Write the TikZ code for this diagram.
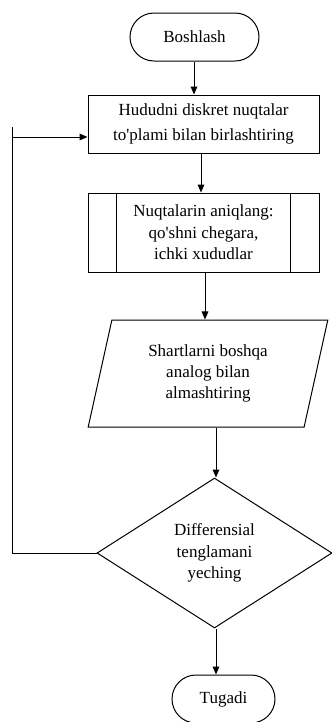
\documentclass[tikz,border=0pt]{standalone}
\usepackage{fontspec}
\setmainfont{Liberation Serif}[Ligatures=TeXOff]
\usetikzlibrary{shapes.misc,shapes.geometric,arrows.meta,calc}
\tikzset{
  base/.style={draw, line width=0.75pt, align=center, inner sep=0pt,
    font=\fontsize{12.75}{16}\selectfont},
  term/.style={base, rounded rectangle, minimum width=96.75pt, minimum height=36pt},
  procbox/.style={base, rectangle, minimum width=173.25pt},
  iobox/.style={base, trapezium, trapezium left angle=75.8, trapezium right angle=104.2,
    trapezium stretches=true, minimum width=180pt, minimum height=80.25pt},
  decbox/.style={base, diamond, minimum width=176.25pt, minimum height=112.5pt},
  arr/.style={line width=0.75pt, -{Triangle[length=6pt,width=5pt]}},
  ln/.style={line width=0.75pt}
}
\begin{document}
\begin{tikzpicture}[x=0.75pt,y=-0.75pt]
\useasboundingbox (0,0) rectangle (332,722);
\node[term] (start) at (194.5,37) {Boshlash};
\node[procbox, minimum height=43.5pt, font=\fontsize{12.75}{18.75}\selectfont] (b1) at (203.5,124) {Hududni diskret nuqtalar\\to'plami bilan birlashtiring};
\node[procbox, minimum height=59.25pt] (pp) at (203.5,232.5) {Nuqtalarin aniqlang:\\qo'shni chegara,\\ichki xududlar};
\draw[ln] ([xshift=21.75pt]pp.north west) -- ([xshift=21.75pt]pp.south west);
\draw[ln] ([xshift=-21.75pt]pp.north east) -- ([xshift=-21.75pt]pp.south east);
\node[iobox] (par) at (208,373.5) {Shartlarni boshqa\\analog bilan\\almashtiring};
\node[decbox] (dec) at (214.5,553) {Differensial\\tenglamani\\yeching};
\node[term, minimum width=77.25pt] (end) at (223.5,699) {Tugadi};
\coordinate (x1) at (194,0);
\coordinate (x2) at (201,0);
\coordinate (x3) at (205,0);
\coordinate (x4) at (216,0);
\coordinate (fbB) at (12,553);
\coordinate (fbT) at (12,127);
\coordinate (fbM) at (12,137);
\draw[arr] (start.south -| x1) -- (b1.north -| x1);
\draw[arr] (b1.south -| x2) -- (pp.north -| x2);
\draw[arr] (pp.south -| x3) -- (par.north -| x3);
\draw[arr] (par.south -| x4) -- (dec.north -| x4);
\draw[arr] (dec.south -| x4) -- (end.north -| x4);
\draw[ln] (dec.west) -- (fbB) -- (fbT);
\draw[arr] (fbM) -- (b1.west |- fbM);
\end{tikzpicture}
\end{document}
